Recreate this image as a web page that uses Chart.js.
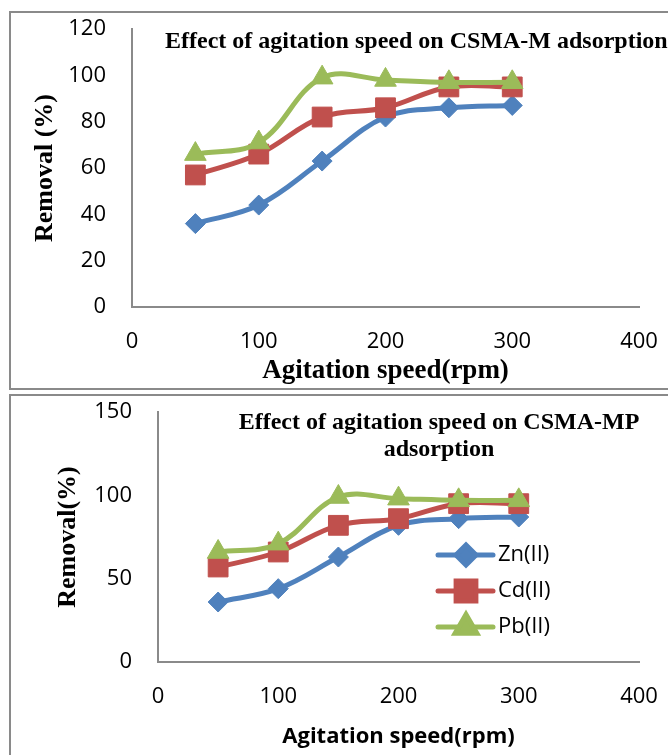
<!DOCTYPE html>
<html>
<head>
<meta charset="utf-8">
<script src="https://cdn.jsdelivr.net/npm/chart.js@4.4.1/dist/chart.umd.min.js"></script>
<style>
  body { margin: 0; width: 668px; height: 755px; overflow: hidden; background: #fff; position: relative; }
  .frame { position: absolute; box-sizing: border-box; border: 2px solid #8a8a8a; }
  canvas { position: absolute; left: 0; }
</style>
</head>
<body>
<div class="frame" style="left:9px; top:11px; width:700px; height:379px;"></div>
<div class="frame" style="left:9px; top:394px; width:700px; height:420px;"></div>
<canvas id="chartM" width="668" height="392" style="top:0"></canvas>
<canvas id="chartMP" width="668" height="363" style="top:392px"></canvas>
<script>
// agitation speed (rpm) and % removal per metal ion
const speeds = [50, 100, 150, 200, 250, 300]
const zn = [36, 44, 63, 82, 86, 87]
const cd = [57, 66, 82, 86, 95, 95]
const pb = [66, 71, 99, 98, 97, 97]

const seriesNames = ["Zn(II)", "Cd(II)", "Pb(II)"]
const seriesValues = [zn, cd, pb]
const colors = ["#4F81BD", "#C0504D", "#9BBB59"]
const markers = ["rectRot", "rect", "triangle"]
const markerSize = [10, 14, 12.5]

const sansFont = "'Open Sans', 'Liberation Sans', sans-serif"
const serifFont = "'Liberation Serif', 'Times New Roman', serif"

function makeDatasets() {
  return seriesValues.map((vals, i) => {
    return {
      label: seriesNames[i],
      data: vals.map((v, j) => ({ x: speeds[j], y: v })),
      borderColor: colors[i],
      backgroundColor: colors[i],
      borderWidth: 5,
      tension: 0.38,
      pointStyle: markers[i],
      pointRadius: markerSize[i],
      pointHoverRadius: markerSize[i],
      pointBackgroundColor: colors[i],
      pointBorderColor: colors[i],
      pointBorderWidth: 1,
      order: 3 - i
    }
  })
}

// heading text drawn inside the plot region
const headingPlugin = {
  id: "chartHeading",
  afterDraw(chart, args, opts) {
    const ctx = chart.ctx
    const ca = chart.chartArea
    ctx.save()
    ctx.font = "bold 24px " + serifFont
    ctx.fillStyle = "#000"
    ctx.textAlign = opts.align
    ctx.textBaseline = "middle"
    opts.lines.forEach((line, i) => {
      ctx.fillText(line, ca.left + opts.dx, ca.top + opts.dy + i * 27)
    })
    ctx.restore()
  }
}

// legend with line sample and marker, placed inside the plot
const sideLegend = {
  id: "sideLegend",
  afterDraw(chart, args, opts) {
    if (!opts.show) return
    const ctx = chart.ctx
    const ca = chart.chartArea
    chart.data.datasets.forEach((ds, i) => {
      const y = ca.top + opts.dy + i * 36
      const x0 = ca.left + opts.dx
      ctx.save()
      ctx.strokeStyle = ds.borderColor
      ctx.lineWidth = 5
      ctx.lineCap = "round"
      ctx.beginPath()
      ctx.moveTo(x0, y)
      ctx.lineTo(x0 + 55, y)
      ctx.stroke()
      ctx.fillStyle = ds.backgroundColor
      ctx.strokeStyle = ds.borderColor
      Chart.helpers.drawPoint(ctx, { pointStyle: ds.pointStyle, radius: ds.pointRadius, rotation: 0, borderWidth: 1 }, x0 + 28, y)
      ctx.fillStyle = "#000"
      ctx.font = "22px " + sansFont
      ctx.textAlign = "left"
      ctx.textBaseline = "middle"
      ctx.fillText(ds.label, x0 + 60, y)
      ctx.restore()
    })
  }
}

// fixed axis sizes, no extra room for overhanging tick labels
function fixSize(s, key, size) {
  s[key] = size
  s.paddingLeft = 0
  s.paddingRight = 0
  s.paddingTop = 0
  s.paddingBottom = 0
}

function makeConfig(o) {
  return {
    type: "line",
    data: { datasets: makeDatasets() },
    plugins: [headingPlugin, sideLegend],
    options: {
      responsive: false,
      animation: false,
      devicePixelRatio: 1,
      layout: { padding: { top: o.top, right: 29, left: 0, bottom: 0 } },
      plugins: {
        legend: { display: false },
        tooltip: { enabled: false },
        chartHeading: o.heading,
        sideLegend: o.legend
      },
      scales: {
        x: {
          type: "linear",
          min: 0,
          max: 400,
          ticks: { stepSize: 100, color: "#000", padding: 22, font: { family: sansFont, size: 22 } },
          grid: { display: false, drawTicks: false },
          border: { display: true, color: "#8a8a8a", width: 2 },
          title: { display: true, text: "Agitation speed(rpm)", color: "#000", font: o.xTitleFont, padding: { top: 0, bottom: 7 } },
          afterFit: (s) => fixSize(s, "height", o.xHeight)
        },
        y: {
          min: 0,
          max: o.yMax,
          ticks: { stepSize: o.yStep, color: "#000", padding: 26, font: { family: sansFont, size: 22 } },
          grid: { display: false, drawTicks: false },
          border: { display: true, color: "#8a8a8a", width: 2 },
          title: { display: true, text: o.yTitle, color: "#000", font: { family: serifFont, size: 26, weight: "bold", lineHeight: 1 }, padding: { top: o.yTitlePad } },
          afterFit: (s) => fixSize(s, "width", o.yWidth)
        }
      }
    }
  }
}

const chartM = new Chart(document.getElementById("chartM"), makeConfig({
  top: 29, xHeight: 85, yWidth: 132, yMax: 120, yStep: 20,
  yTitle: "Removal (%)", yTitlePad: 32,
  xTitleFont: { family: serifFont, size: 27, weight: "bold", lineHeight: 1 },
  heading: { lines: ["Effect of agitation speed on CSMA-M adsorption"], align: "left", dx: 33, dy: 13 },
  legend: { show: false }
}))

const chartMP = new Chart(document.getElementById("chartMP"), makeConfig({
  top: 20, xHeight: 93, yWidth: 158, yMax: 150, yStep: 50,
  yTitle: "Removal(%)", yTitlePad: 55,
  xTitleFont: { family: sansFont, size: 22, weight: "bold", lineHeight: 1 },
  heading: { lines: ["Effect of agitation speed on CSMA-MP", "adsorption"], align: "center", dx: 281, dy: 11 },
  legend: { show: true, dx: 280, dy: 143 }
}))
</script>
</body>
</html>
